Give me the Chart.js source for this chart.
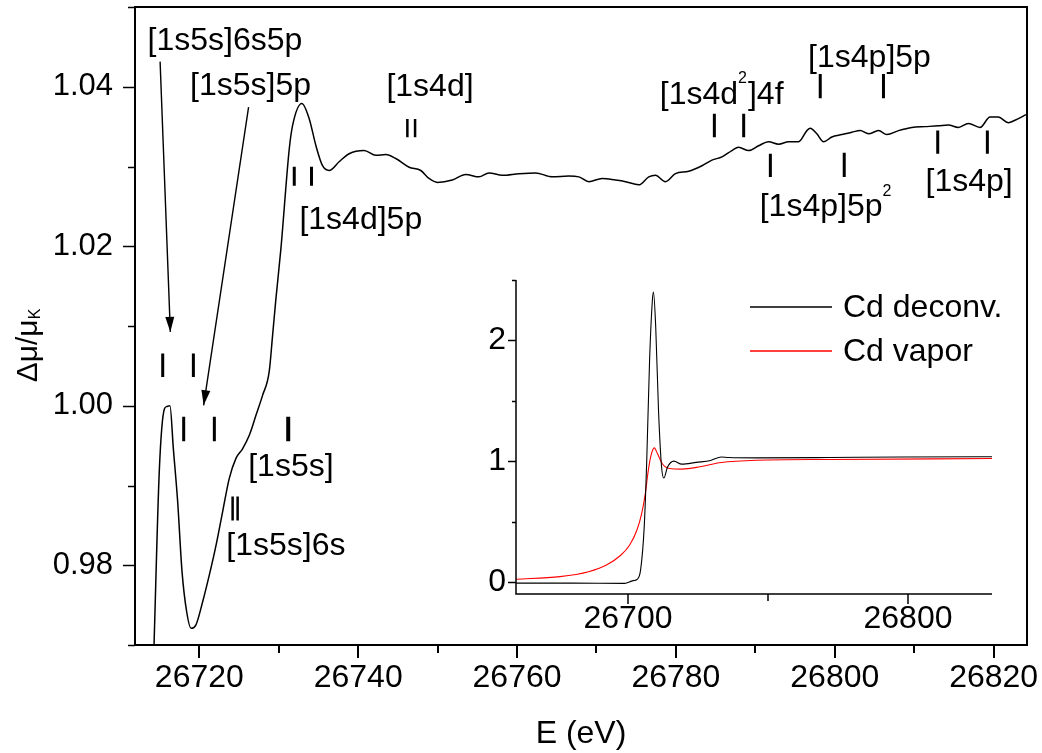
<!DOCTYPE html>
<html>
<head>
<meta charset="utf-8">
<script src="https://cdn.jsdelivr.net/npm/chart.js@4.4.1/dist/chart.umd.min.js"></script>
<style>
  html, body { margin: 0; padding: 0; background: #fff; }
  #wrap { position: relative; width: 1042px; height: 753px; }
  #main { position: absolute; left: 0; top: 0; }
  #inset { position: absolute; left: 430px; top: 262px; }
</style>
</head>
<body>
<div id="wrap">
  <canvas id="main" width="1042" height="753"></canvas>
  <canvas id="inset" width="580" height="378"></canvas>
</div>
<script>
// main spectrum: E (eV) and delta mu / mu_K
const mainE = [26714.28, 26714.97, 26715.6, 26715.9, 26716.3, 26716.73, 26717.27, 26717.82, 26718.4, 26718.96,
  26719.56, 26720.41, 26721.26, 26722.1, 26722.93, 26723.77, 26724.61, 26725.44, 26726.29, 26727.13,
  26727.96, 26728.8, 26729.22, 26729.64, 26730.27, 26731.32, 26731.73, 26732.91, 26733.83, 26734.68,
  26735.51, 26736.35, 26737.6, 26738.86, 26740.75, 26742.22, 26743.48, 26744.73, 26746.41, 26747.88,
  26748.92, 26749.97, 26751.85, 26753.54, 26755.21, 26756.46, 26758.14, 26760.24, 26762.34, 26764.43,
  26766.52, 26767.78, 26769.04, 26770.71, 26772.39, 26773.65, 26775.33, 26776.58, 26777.42, 26778.68,
  26779.94, 26781.61, 26783.28, 26784.54, 26785.8, 26787.05, 26787.9, 26789.16, 26790.41, 26791.67,
  26792.93, 26794.18, 26795.44, 26796.49, 26796.91, 26797.74, 26798.59, 26799.63, 26800.89, 26802.15,
  26803.2, 26804.25, 26805.51, 26806.55, 26808.02, 26809.7, 26811.38, 26813.05, 26814.3, 26815.56,
  26816.82, 26818.29, 26819.55, 26820.59, 26821.85, 26822.69, 26824.07];
const mainY = [0.9695, 0.9921, 0.9996, 0.9999, 1.0, 0.9946, 0.988, 0.9792, 0.9742, 0.9721,
  0.9725, 0.9754, 0.9788, 0.9825, 0.9867, 0.9909, 0.9934, 0.9946, 0.9963, 0.9988,
  1.0013, 1.0043, 1.0088, 1.0134, 1.0197, 1.0322, 1.0351, 1.0379, 1.036, 1.0326,
  1.0301, 1.0295, 1.0306, 1.0316, 1.032, 1.0314, 1.0315, 1.031, 1.0299, 1.0295,
  1.0285, 1.028, 1.0283, 1.029, 1.0287, 1.0292, 1.0289, 1.0291, 1.0292, 1.0287,
  1.0288, 1.0287, 1.0281, 1.0285, 1.0283, 1.0281, 1.0277, 1.0287, 1.0289, 1.0281,
  1.0291, 1.0294, 1.0301, 1.0308, 1.0312, 1.032, 1.0324, 1.032, 1.0326, 1.0331,
  1.0328, 1.0331, 1.0331, 1.0345, 1.0348, 1.0341, 1.0331, 1.0337, 1.034, 1.0343,
  1.0345, 1.0341, 1.0345, 1.034, 1.0345, 1.0349, 1.035, 1.0351, 1.0352, 1.0349,
  1.0354, 1.0349, 1.0362, 1.0362, 1.0355, 1.0358, 1.0365];

// transition markers (vertical bars)
const singleBarE = [26715.39, 26719.25, 26718.03, 26721.89, 26731.95, 26734.12, 26784.84, 26788.53,
  26791.89, 26798.17, 26806.13, 26801.19, 26812.96, 26819.21];
const singleBarTop = [1.00654, 1.00654, 0.99861, 0.99861, 1.02996, 1.02996, 1.0366, 1.0366,
  1.03159, 1.04159, 1.04159, 1.03172, 1.03451, 1.03451];
const singleBarBottom = [1.00362, 1.00362, 0.99555, 0.99555, 1.02758, 1.02758, 1.03368, 1.03368,
  1.02867, 1.03857, 1.03857, 1.02867, 1.03159, 1.03159];
const doubleBarE = [26724.19, 26724.82, 26746.19, 26747.16];
const doubleBarTop = [0.98863, 0.98863, 1.03597, 1.03597];
const doubleBarBottom = [0.98562, 0.98562, 1.03368, 1.03368];
const boldBarE = [26731.19];
const boldBarTop = [0.99861];
const boldBarBottom = [0.99555];

// arrows
const arrowFromE = [26715.06, 26726.2];
const arrowFromY = [1.04315, 1.03744];
const arrowToE = [26716.35, 26720.54];
const arrowToY = [1.00926, 1.00006];

// labels (^ = superscript of next char)
const labelText = ['[1s5s]6s5p', '[1s5s]5p', '[1s4d]5p', '[1s4d]', '[1s4d^2]4f', '[1s4p]5p',
  '[1s4p]5p^2', '[1s4p]', '[1s5s]', '[1s5s]6s'];
const labelE = [26723.23, 26726.45, 26740.33, 26749.04, 26785.76, 26804.37, 26798.9, 26816.92, 26731.53, 26730.9];
const labelY = [1.04571, 1.04007, 1.02324, 1.03998, 1.03898, 1.04361, 1.02483, 1.02796, 0.99226, 0.98236];

// inset spectra
const insetLabels = ['Cd deconv.', 'Cd vapor'];
const deconvE = [26660, 26680, 26698.7, 26700.5, 26701.9, 26703.2, 26704.5, 26705.8, 26706.7, 26707.7,
  26708.7, 26709.1, 26709.9, 26710.9, 26712.0, 26712.8, 26714.1, 26716.4, 26719.2, 26724.4,
  26729.5, 26733.3, 26735.9, 26746.2, 26771.8, 26797.5, 26830];
const deconvY = [-0.01, -0.01, -0.012, 0.0, 0.011, 0.02, 0.1, 0.46, 1.01, 1.83,
  2.33, 2.4, 2.11, 1.42, 0.95, 0.86, 0.95, 1.0, 0.975, 0.99,
  1.005, 1.035, 1.03, 1.027, 1.03, 1.035, 1.036];
const vaporE = [26660, 26675.7, 26685.9, 26692.3, 26697.5, 26700.6, 26703.2, 26704.9, 26706.2, 26707.1,
  26708.1, 26709.4, 26710.5, 26712.2, 26714.8, 26719.2, 26725.7, 26733.3, 26746.2, 26771.8, 26830];
const vaporY = [0.022, 0.044, 0.085, 0.14, 0.223, 0.306, 0.43, 0.568, 0.733, 0.899,
  1.036, 1.11, 1.063, 0.981, 0.939, 0.934, 0.953, 0.989, 1.008, 1.014, 1.022];

const FONT = "'Liberation Sans', Arial, sans-serif";
Chart.defaults.font.family = FONT;
Chart.defaults.font.size = 32;
Chart.defaults.color = '#000';

function pts(xs, ys) { return xs.map((x, i) => ({ x: x, y: ys[i] })); }
function bars(xs, top, bottom) {
  const out = [];
  xs.forEach((x, i) => { out.push({ x: x, y: top[i] }, { x: x, y: bottom[i] }, { x: x, y: null }); });
  return out;
}

function drawRich(ctx, str, x, baseline, size, align) {
  const parts = [];
  for (let i = 0; i < str.length; i++) {
    const c = str[i];
    if ((c === '^' || c === '_') && i + 1 < str.length) { parts.push({ t: str[i + 1], k: c }); i++; }
    else if (parts.length && !parts[parts.length - 1].k) parts[parts.length - 1].t += c;
    else parts.push({ t: c, k: '' });
  }
  const fontOf = p => (p.k ? 16 : size) + 'px ' + FONT;
  let w = 0;
  parts.forEach(p => { ctx.font = fontOf(p); p.w = ctx.measureText(p.t).width + (p.k ? 1 : 0); w += p.w; });
  let cx = align === 'center' ? x - w / 2 : x;
  ctx.textAlign = 'left';
  ctx.textBaseline = 'alphabetic';
  parts.forEach(p => {
    ctx.font = fontOf(p);
    const dy = p.k === '^' ? -0.63 * size : p.k === '_' ? 3 : 0;
    ctx.fillText(p.t, cx, baseline + dy);
    cx += p.w;
  });
}

function drawTicks(ctx, scale, area, majorLen, minorLen, width) {
  ctx.strokeStyle = '#000';
  ctx.lineWidth = width;
  scale.ticks.forEach(t => {
    const len = t.label !== '' ? majorLen : minorLen;
    const p = Math.round(scale.getPixelForValue(t.value));
    ctx.beginPath();
    if (scale.isHorizontal()) { ctx.moveTo(p, area.bottom); ctx.lineTo(p, area.bottom + len); }
    else { ctx.moveTo(area.left, p + 0.5); ctx.lineTo(area.left - len, p + 0.5); }
    ctx.stroke();
  });
}

const mainDecor = {
  id: 'mainDecor',
  afterDraw(chart) {
    const ctx = chart.ctx, a = chart.chartArea, xs = chart.scales.x, ys = chart.scales.y;
    ctx.save();
    ctx.strokeStyle = '#000';
    ctx.lineWidth = 2;
    ctx.strokeRect(a.left, a.top, a.right - a.left, a.bottom - a.top);
    drawTicks(ctx, xs, a, 13, 8, 2);
    drawTicks(ctx, ys, a, 12, 7, 1.5);

    // arrow heads
    ctx.fillStyle = '#000';
    arrowToE.forEach((e, i) => {
      const x1 = xs.getPixelForValue(arrowFromE[i]), y1 = ys.getPixelForValue(arrowFromY[i]);
      const x2 = xs.getPixelForValue(e), y2 = ys.getPixelForValue(arrowToY[i]);
      const ang = Math.atan2(y2 - y1, x2 - x1), L = 15, W = 4.5;
      ctx.beginPath();
      ctx.moveTo(x2, y2);
      ctx.lineTo(x2 - L * Math.cos(ang) + W * Math.sin(ang), y2 - L * Math.sin(ang) - W * Math.cos(ang));
      ctx.lineTo(x2 - L * Math.cos(ang) - W * Math.sin(ang), y2 - L * Math.sin(ang) + W * Math.cos(ang));
      ctx.closePath();
      ctx.fill();
    });

    // annotation labels
    labelText.forEach((t, i) => {
      const x = xs.getPixelForValue(labelE[i]), y = ys.getPixelForValue(labelY[i]);
      drawRich(ctx, t, x, y + 0.27 * 32, 32, 'center');
    });

    // axis titles
    ctx.font = '32px ' + FONT;
    ctx.textAlign = 'center';
    ctx.textBaseline = 'alphabetic';
    ctx.fillText('E (eV)', (a.left + a.right) / 2, 743);
    ctx.translate(37, 345);
    ctx.rotate(-Math.PI / 2);
    drawRich(ctx, 'Δμ/μ_K', 0, 0, 30, 'center');
    ctx.restore();
  }
};

new Chart(document.getElementById('main'), {
  type: 'line',
  data: {
    datasets: [
      { data: pts(mainE, mainY), borderColor: '#000', borderWidth: 1.5, pointRadius: 0,
        cubicInterpolationMode: 'monotone', clip: 0 },
      { data: bars(singleBarE, singleBarTop, singleBarBottom), borderColor: '#000', borderWidth: 3,
        pointRadius: 0, spanGaps: false },
      { data: bars(doubleBarE, doubleBarTop, doubleBarBottom), borderColor: '#000', borderWidth: 2.5,
        pointRadius: 0, spanGaps: false },
      { data: bars(boldBarE, boldBarTop, boldBarBottom), borderColor: '#000', borderWidth: 4,
        pointRadius: 0, spanGaps: false },
      { data: arrowFromE.flatMap((e, i) => [{ x: e, y: arrowFromY[i] }, { x: arrowToE[i], y: arrowToY[i] }, { x: e, y: null }]),
        borderColor: '#000', borderWidth: 1.4, pointRadius: 0, spanGaps: false }
    ]
  },
  options: {
    responsive: false,
    animation: false,
    events: [],
    layout: { padding: { left: 0, top: 7, right: 15, bottom: 0 } },
    plugins: { legend: { display: false }, tooltip: { enabled: false } },
    scales: {
      x: {
        type: 'linear', min: 26711.9, max: 26824.2,
        afterFit: s => { s.height = 108; s.paddingLeft = 0; s.paddingRight = 0; },
        grid: { display: false, drawTicks: false }, border: { display: false },
        ticks: { stepSize: 10, includeBounds: false, autoSkip: false, maxRotation: 0, padding: 14,
          callback: v => (v % 20 === 0 ? String(v) : '') }
      },
      y: {
        min: 0.97, max: 1.05,
        afterFit: s => { s.width = 135; s.paddingTop = 0; s.paddingBottom = 0; },
        grid: { display: false, drawTicks: false }, border: { display: false },
        ticks: { stepSize: 0.01, includeBounds: false, autoSkip: false, padding: 22, font: { size: 31 },
          callback: v => { const k = Math.round(v * 100); return k % 2 === 0 ? (k / 100).toFixed(2) : ''; } }
      }
    }
  },
  plugins: [mainDecor]
});

const insetDecor = {
  id: 'insetDecor',
  afterDraw(chart) {
    const ctx = chart.ctx, a = chart.chartArea;
    ctx.save();
    ctx.strokeStyle = '#000';
    ctx.lineWidth = 1.5;
    ctx.beginPath();
    ctx.moveTo(a.left, a.top);
    ctx.lineTo(a.left, a.bottom);
    ctx.lineTo(a.right, a.bottom);
    ctx.stroke();
    drawTicks(ctx, chart.scales.x, a, 10, 7, 1.5);
    drawTicks(ctx, chart.scales.y, a, 8, 4, 1.5);
    // legend
    chart.data.datasets.forEach((ds, i) => {
      const y = a.top + 27 + i * 44;
      ctx.strokeStyle = ds.borderColor;
      ctx.lineWidth = 1.3;
      ctx.beginPath();
      ctx.moveTo(a.right - 242, y);
      ctx.lineTo(a.right - 160, y);
      ctx.stroke();
      ctx.fillStyle = '#000';
      ctx.font = '32px ' + FONT;
      ctx.textAlign = 'left';
      ctx.textBaseline = 'middle';
      ctx.fillText(ds.label, a.right - 149, y + 1);
    });
    ctx.restore();
  }
};

new Chart(document.getElementById('inset'), {
  type: 'line',
  data: {
    datasets: [
      { label: insetLabels[0], data: pts(deconvE, deconvY), borderColor: '#000', borderWidth: 1.1,
        pointRadius: 0, cubicInterpolationMode: 'monotone' },
      { label: insetLabels[1], data: pts(vaporE, vaporY), borderColor: '#ff0000', borderWidth: 1.1,
        pointRadius: 0, cubicInterpolationMode: 'monotone' }
    ]
  },
  options: {
    responsive: false,
    animation: false,
    events: [],
    layout: { padding: { left: 0, top: 18, right: 18, bottom: 0 } },
    plugins: { legend: { display: false }, tooltip: { enabled: false } },
    scales: {
      x: {
        type: 'linear', min: 26660, max: 26830,
        afterFit: s => { s.height = 46; s.paddingLeft = 0; s.paddingRight = 0; },
        grid: { display: false, drawTicks: false }, border: { display: false },
        ticks: { stepSize: 50, includeBounds: false, autoSkip: false, maxRotation: 0, padding: 6,
          callback: v => (v % 100 === 0 ? String(v) : '') }
      },
      y: {
        min: -0.1, max: 2.5,
        afterFit: s => { s.width = 86; s.paddingTop = 0; s.paddingBottom = 0; },
        grid: { display: false, drawTicks: false }, border: { display: false },
        ticks: { stepSize: 0.5, includeBounds: false, autoSkip: false, padding: 10,
          callback: v => (Number.isInteger(v) ? String(v) : '') }
      }
    }
  },
  plugins: [insetDecor]
});
</script>
</body>
</html>
